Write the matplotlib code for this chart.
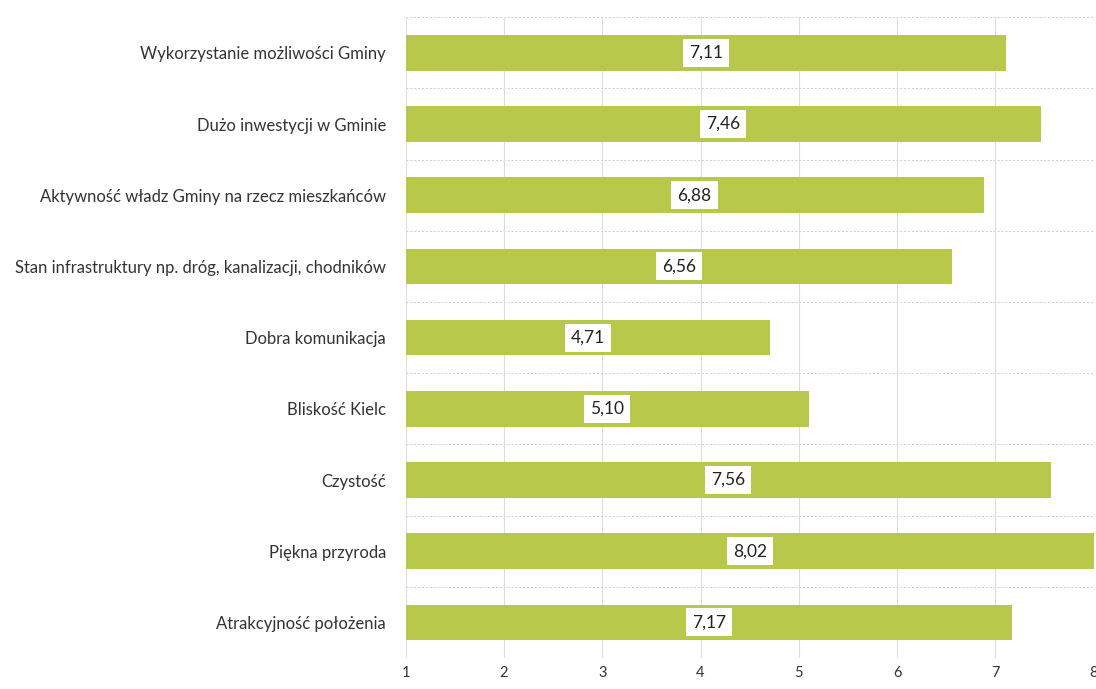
import numpy as np
import matplotlib.pyplot as plt

# Dane (od góry do dołu)
categories = [
    'Wykorzystanie możliwości Gminy',
    'Dużo inwestycji w Gminie',
    'Aktywność władz Gminy na rzecz mieszkańców',
    'Stan infrastruktury np. dróg, kanalizacji, chodników',
    'Dobra komunikacja',
    'Bliskość Kielc',
    'Czystość',
    'Piękna przyroda',
    'Atrakcyjność położenia',
]
values = [7.11, 7.46, 6.88, 6.56, 4.71, 5.10, 7.56, 8.02, 7.17]
xticks = [1, 2, 3, 4, 5, 6, 7, 8]

plt.rcParams['font.family'] = ['Lato', 'DejaVu Sans']

fig = plt.figure(figsize=(10.96, 6.89), dpi=100)
ax = fig.add_axes([0.370, 0.045, 0.628, 0.930])

y = np.arange(len(categories))
ax.barh(y, values, height=0.5, color='#b8c84a', zorder=2)

for yi, v in zip(y, values):
    ax.text((1 + min(v, 8)) / 2, yi, ('%.2f' % v).replace('.', ','),
            ha='center', va='center', fontsize=12.5, color='#222222', zorder=3,
            bbox=dict(boxstyle='square,pad=0.35', facecolor='white', edgecolor='none'))

ax.set_xlim(1, 8)
ax.set_ylim(len(categories) - 0.5, -0.5)
ax.set_xticks(xticks)
ax.set_yticks(y)
ax.set_yticklabels(categories, fontsize=12, color='#333333')
ax.tick_params(axis='both', length=0)
ax.tick_params(axis='y', pad=14)
ax.tick_params(axis='x', pad=6, labelsize=10.5, labelcolor='#333333')

# siatka pionowa i przerywane linie między kategoriami
ax.grid(axis='x', color='#dddddd', linewidth=0.8, zorder=0)
for b in np.arange(-0.5, len(categories), 1):
    ax.axhline(b, color='#cccccc', linewidth=0.7, linestyle=(0, (2, 2)), zorder=1)

for s in ax.spines.values():
    s.set_visible(False)

fig.savefig('out.png', dpi=100)
